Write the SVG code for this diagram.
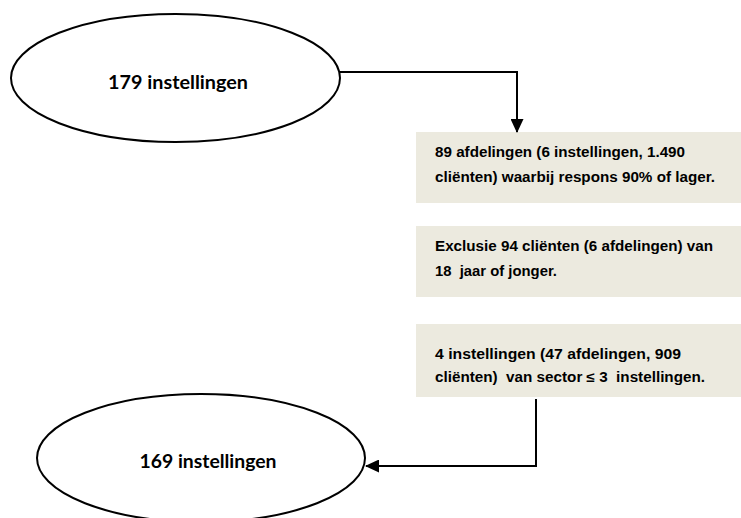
<svg xmlns="http://www.w3.org/2000/svg" width="741" height="518" viewBox="0 0 741 518">
<defs>
<style>
.ell{fill:#fff;stroke:#000;stroke-width:2}
.box{fill:#ECEADF}
.et{font-family:Lato,"Open Sans",sans-serif;font-weight:bold;font-size:18px;fill:#000}
.bt{font-family:"Liberation Sans",Arial,sans-serif;font-weight:bold;font-size:14px;fill:#000;white-space:pre}
.ln{fill:none;stroke:#000;stroke-width:2}
</style>
<marker id="ah" markerWidth="14" markerHeight="13" refX="13" refY="6.5" orient="auto" markerUnits="userSpaceOnUse">
<path d="M0,0 L14,6.5 L0,13 Z" fill="#000"/>
</marker>
</defs>
<rect width="741" height="518" fill="#fff"/>
<g id="node-start">
<ellipse class="ell" cx="175.5" cy="78" rx="164.5" ry="64"/>
<text class="et" x="178" y="89" text-anchor="middle" textLength="140" lengthAdjust="spacingAndGlyphs">179 instellingen</text>
</g>
<g id="node-box1">
<rect class="box" x="416" y="132" width="325" height="71"/>
<text class="bt" x="435" y="157" textLength="250" lengthAdjust="spacingAndGlyphs">89 afdelingen (6 instellingen, 1.490</text>
<text class="bt" x="435" y="182" textLength="280" lengthAdjust="spacingAndGlyphs">cliënten) waarbij respons 90% of lager.</text>
</g>
<g id="node-box2">
<rect class="box" x="416" y="226" width="325" height="71"/>
<text class="bt" x="435" y="251" textLength="278" lengthAdjust="spacingAndGlyphs">Exclusie 94 cliënten (6 afdelingen) van</text>
<text class="bt" x="435" y="276" textLength="122" lengthAdjust="spacingAndGlyphs">18  jaar of jonger.</text>
</g>
<g id="node-box3">
<rect class="box" x="416" y="324" width="325" height="73"/>
<text class="bt" x="435" y="359" textLength="246" lengthAdjust="spacingAndGlyphs">4 instellingen (47 afdelingen, 909</text>
<text class="bt" x="435" y="382" textLength="270" lengthAdjust="spacingAndGlyphs">cliënten)  van sector ≤ 3  instellingen.</text>
</g>
<g id="node-end">
<ellipse class="ell" cx="201" cy="458" rx="164" ry="64"/>
<text class="et" x="208" y="468" text-anchor="middle" textLength="137" lengthAdjust="spacingAndGlyphs">169 instellingen</text>
</g>
<g id="connectors">
<path class="ln" d="M340,72 H517 V132" marker-end="url(#ah)"/>
<path class="ln" d="M536,399 V466 H366" marker-end="url(#ah)"/>
</g>
</svg>
